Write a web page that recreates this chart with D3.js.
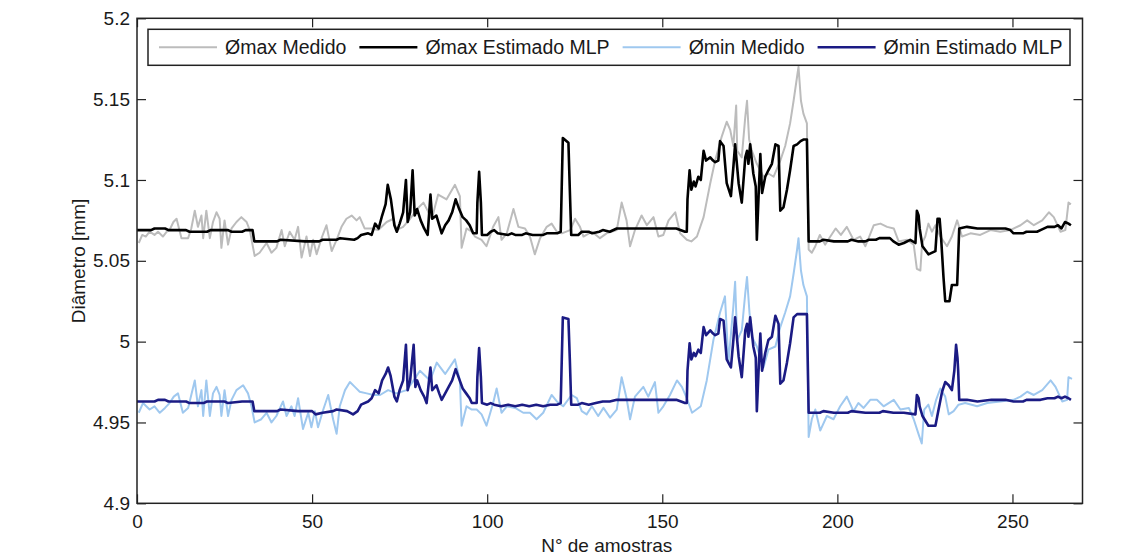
<!DOCTYPE html>
<html>
<head>
<meta charset="utf-8">
<script src="https://cdn.jsdelivr.net/npm/d3@7"></script>
<style>
	body { margin: 0; background: #fff; }
	text { font-family: "Liberation Sans", Arial, sans-serif; fill: #1a1a1a; }
</style>
</head>
<body>
<script>
'use strict';

// Values: [sample, diameter in mm]
const maxMedido = [
	[0.5,5.061],[1.5,5.066],[2.5,5.065],[3.6,5.068],[5,5.066],[6,5.068],[7.4,5.065],[8.5,5.068],[9.5,5.070],[10.4,5.074],
	[11.3,5.076],[12.7,5.064],[14.6,5.064],[15.5,5.070],[16.5,5.081],[17.4,5.071],[18.4,5.078],[18.9,5.064],[19.8,5.081],[20.8,5.064],
	[21.7,5.074],[22.7,5.080],[23.6,5.076],[24.1,5.058],[25,5.075],[26,5.060],[27,5.070],[28.4,5.074],[29.8,5.077],[31.3,5.074],
	[32.2,5.069],[33.6,5.053],[35,5.055],[37,5.061],[38.4,5.055],[39.8,5.058],[41.3,5.069],[42.2,5.059],[43.6,5.068],[45,5.063],
	[46,5.071],[47,5.052],[48.4,5.065],[49.4,5.053],[50.3,5.063],[51.3,5.054],[52.7,5.064],[54.1,5.072],[55.6,5.056],[57,5.063],
	[58.4,5.071],[59.8,5.076],[61.3,5.078],[62.7,5.075],[63.6,5.077],[65,5.070],[67,5.070],[68.9,5.069],[71.3,5.074],[73.2,5.076],
	[74.1,5.069],[76,5.071],[78,5.076],[80,5.082],[81.8,5.086],[84.2,5.076],[86,5.091],[88.4,5.088],[90.8,5.097],[92.2,5.090],
	[92.7,5.058],[94.1,5.070],[95.6,5.068],[96.5,5.065],[98.4,5.063],[99.8,5.059],[101.7,5.071],[103.2,5.077],[104.1,5.063],[105.6,5.067],
	[107.5,5.082],[108.9,5.071],[110.8,5.070],[112.2,5.065],[113.6,5.054],[115.1,5.064],[117,5.071],[118.4,5.073],[119.9,5.068],[121.3,5.067],
	[123.7,5.069],[125.1,5.076],[126.5,5.071],[127.5,5.065],[129.9,5.068],[132.2,5.064],[134.1,5.067],[137,5.069],[138.4,5.086],[139.8,5.075],
	[140.8,5.059],[142.2,5.069],[144.1,5.078],[145.6,5.072],[147.5,5.077],[148.9,5.065],[150.3,5.066],[151.8,5.075],[153.7,5.080],[155.1,5.067],
	[157,5.063],[158.3,5.062],[159.9,5.065],[161.8,5.077],[163.7,5.098],[165.1,5.112],[167,5.127],[168.4,5.136],[169.4,5.131],[170.3,5.121],
	[171.1,5.146],[171.4,5.118],[172.7,5.114],[173.7,5.139],[174.2,5.149],[174.8,5.125],[175.6,5.118],[177,5.110],[178.9,5.102],[180.3,5.104],
	[181.8,5.102],[183.7,5.112],[185.1,5.121],[186.5,5.135],[187.5,5.149],[188.5,5.164],[188.9,5.170],[189.6,5.149],[190.3,5.141],[191.3,5.135],
	[191.8,5.057],[192.7,5.055],[193.7,5.059],[195,5.066],[196.5,5.060],[198,5.065],[199.5,5.070],[201,5.066],[202.7,5.071],[204.6,5.063],
	[206.5,5.065],[208,5.059],[210.4,5.072],[212.3,5.073],[214.2,5.071],[216.1,5.070],[217.5,5.062],[219.9,5.063],[221.8,5.060],[222.7,5.045],
	[223.7,5.044],[224.2,5.061],[225.1,5.065],[226,5.073],[227,5.068],[228,5.072],[229.4,5.065],[231.3,5.059],[232.7,5.065],[234.2,5.075],
	[235.6,5.065],[238,5.067],[240.8,5.066],[243.7,5.069],[246.5,5.068],[249.4,5.069],[252.3,5.072],[254.2,5.075],[256.1,5.072],[258.5,5.075],
	[260.4,5.080],[261.8,5.077],[263.7,5.068],[265.1,5.069],[266,5.086],[266.7,5.085]
];

const maxEstimado = [
	[0,5.069],[4,5.069],[5,5.070],[8,5.070],[9,5.069],[14,5.069],[15,5.068],[20,5.068],[21,5.069],[26,5.069],
	[27,5.068],[30,5.068],[31,5.069],[33,5.069],[33.5,5.062],[40,5.062],[41,5.063],[48,5.062],[52,5.062],[53,5.063],
	[57,5.063],[58,5.064],[62,5.063],[63,5.064],[64,5.066],[66,5.067],[67,5.066],[68,5.073],[69,5.070],[70,5.078],
	[71,5.085],[71.6,5.097],[72.5,5.088],[73.5,5.072],[74.2,5.068],[75,5.073],[76,5.080],[76.8,5.100],[77.3,5.074],[78,5.080],
	[78.7,5.106],[79.3,5.078],[80,5.082],[81,5.075],[82,5.070],[83,5.066],[83.8,5.091],[84.3,5.076],[85.5,5.078],[86.3,5.072],
	[87,5.067],[88,5.072],[89,5.075],[90,5.080],[91,5.088],[92,5.082],[93,5.077],[94,5.075],[95,5.072],[96,5.067],
	[97,5.067],[97.2,5.086],[97.7,5.105],[98.2,5.086],[98.5,5.066],[100,5.066],[101,5.068],[102,5.069],[103,5.067],[106,5.066],
	[107,5.067],[108,5.066],[110,5.066],[111,5.067],[113,5.066],[116,5.066],[117,5.067],[120,5.067],[121,5.068],[121.3,5.097],
	[121.6,5.126],[123.2,5.123],[123.6,5.094],[124,5.066],[126,5.066],[127,5.068],[129,5.068],[130,5.067],[132,5.068],[133,5.069],
	[135,5.068],[137,5.070],[140,5.070],[145,5.070],[150,5.070],[154,5.070],[156.5,5.068],[157,5.068],[157.2,5.088],[157.8,5.106],
	[158.3,5.094],[159,5.099],[159.5,5.096],[160.3,5.102],[161,5.100],[161.8,5.118],[162.5,5.112],[163.7,5.114],[164.5,5.112],[165.1,5.111],
	[166,5.112],[166.5,5.124],[167.5,5.121],[168.4,5.098],[169.6,5.090],[170.3,5.108],[170.8,5.122],[171.8,5.098],[172.7,5.086],[173.7,5.114],
	[174.2,5.118],[174.6,5.110],[175.1,5.122],[176,5.104],[176.7,5.096],[177,5.063],[177.5,5.090],[178,5.116],[178.5,5.092],[179.4,5.102],
	[180.3,5.106],[181.3,5.110],[182.3,5.122],[183.2,5.121],[183.7,5.081],[184.6,5.083],[185.6,5.094],[186.5,5.106],[187.5,5.121],[188.5,5.122],
	[189.5,5.124],[190.3,5.125],[191.3,5.125],[191.8,5.062],[195,5.062],[196,5.063],[199,5.062],[203,5.062],[204,5.063],[206,5.062],
	[208,5.062],[209,5.063],[211,5.063],[212,5.064],[215,5.064],[216,5.062],[217.5,5.060],[219,5.061],[220.8,5.063],[222.3,5.061],
	[222.7,5.081],[223.2,5.078],[223.5,5.070],[224.3,5.059],[226,5.054],[228,5.056],[228.6,5.076],[229.2,5.076],[229.6,5.065],[230.3,5.040],
	[230.8,5.025],[232,5.025],[232.7,5.035],[234.2,5.035],[234.8,5.070],[237,5.071],[240,5.070],[244,5.070],[248,5.070],[249.4,5.069],
	[250.3,5.067],[253,5.067],[254,5.068],[257,5.068],[258,5.069],[260,5.071],[262,5.071],[263,5.072],[264,5.070],[265,5.074],
	[266,5.073],[266.7,5.072]
];

const minMedido = [
	[0.5,4.956],[1.7,4.962],[3.6,4.958],[5,4.960],[6.5,4.956],[8,4.959],[9.3,4.962],[10.5,4.966],[11.7,4.968],[13.1,4.956],
	[14.6,4.959],[16.5,4.976],[17.4,4.960],[18.4,4.970],[18.9,4.954],[19.8,4.976],[20.8,4.954],[21.7,4.968],[22.7,4.972],[23.6,4.967],
	[24.1,4.954],[25,4.970],[26,4.954],[27,4.964],[28.4,4.970],[30.3,4.973],[31.7,4.968],[32.7,4.960],[33.6,4.950],[35.5,4.952],
	[37,4.956],[38.4,4.950],[39.8,4.954],[41.7,4.963],[42.7,4.954],[44.1,4.960],[45,4.954],[46,4.965],[47.4,4.946],[48.9,4.956],
	[49.8,4.947],[50.8,4.957],[51.7,4.947],[53.2,4.958],[54.6,4.967],[56,4.952],[57,4.943],[57.9,4.960],[59.4,4.970],[60.8,4.975],
	[62.2,4.972],[63.6,4.969],[65.6,4.968],[67.5,4.967],[69.4,4.967],[71.7,4.970],[74.1,4.968],[77,4.970],[79,4.976],[80.8,4.982],
	[83.7,4.976],[85.6,4.987],[88,4.980],[90.8,4.989],[92.2,4.976],[92.7,4.948],[94.1,4.960],[95.6,4.958],[97,4.958],[98.4,4.955],
	[99.8,4.948],[101.7,4.962],[102.7,4.971],[104.1,4.956],[105.6,4.960],[108,4.959],[110.3,4.956],[112.2,4.956],[114.1,4.952],[116,4.956],
	[118.4,4.967],[119.9,4.963],[121.7,4.960],[124.1,4.967],[125.6,4.965],[127,4.957],[128.4,4.955],[129.9,4.960],[131.7,4.954],[133.2,4.959],
	[135.1,4.953],[137,4.958],[138.4,4.978],[139.8,4.965],[140.8,4.952],[142.2,4.966],[144.6,4.972],[146,4.966],[147.9,4.975],[148.9,4.956],
	[150.3,4.960],[152.2,4.967],[154.2,4.976],[155.6,4.972],[157,4.965],[158.5,4.956],[161,4.960],[162.7,4.976],[164.6,5.001],[166.5,5.018],
	[167.9,5.028],[168.9,4.987],[170.3,5.022],[170.8,5.037],[171.4,5.001],[172.7,5.007],[173.7,5.030],[174.2,5.040],[174.9,5.018],[175.6,5.003],
	[177,4.997],[178.9,4.984],[180.3,4.995],[182.3,4.997],[183.7,5.009],[185.1,5.018],[186.5,5.028],[187.5,5.042],[188.5,5.057],[188.9,5.064],
	[189.6,5.044],[190.3,5.035],[191.3,5.028],[191.8,4.941],[192.7,4.952],[193.7,4.958],[195.1,4.945],[197,4.954],[198.9,4.952],[200.8,4.960],
	[202.7,4.966],[204.6,4.957],[206,4.962],[207.5,4.959],[209.4,4.964],[211.3,4.964],[213.2,4.960],[216.1,4.964],[218,4.958],[220.4,4.959],
	[221.8,4.952],[223.3,4.942],[224.1,4.937],[224.8,4.958],[226,4.961],[227,4.954],[228.2,4.964],[229.4,4.971],[230.8,4.966],[231.8,4.955],
	[233.2,4.957],[234.6,4.961],[236.5,4.962],[239.9,4.960],[242.8,4.962],[246.5,4.963],[250.3,4.964],[252.3,4.966],[254.2,4.969],[256.1,4.967],
	[258.5,4.970],[260.9,4.976],[262.3,4.972],[264.2,4.963],[265.6,4.964],[266,4.978],[267,4.977]
];

const minEstimado = [
	[0,4.963],[5,4.963],[6,4.964],[8,4.964],[9,4.963],[14,4.963],[15,4.962],[19,4.962],[20,4.963],[25,4.963],
	[26,4.962],[30,4.963],[33,4.963],[33.5,4.957],[40,4.957],[41,4.958],[46,4.957],[50,4.957],[51,4.955],[53,4.956],
	[56,4.957],[57,4.958],[60,4.957],[61.7,4.955],[63,4.957],[64,4.961],[66,4.963],[67,4.965],[68,4.970],[69,4.968],
	[70,4.976],[71,4.980],[71.7,4.984],[72.4,4.979],[73.5,4.966],[74.2,4.963],[75,4.970],[76,4.976],[76.8,4.998],[77.3,4.970],
	[78,4.976],[79,4.998],[79.5,4.972],[80,4.976],[81,4.970],[82,4.966],[82.7,4.962],[83.8,4.984],[84.3,4.970],[85.5,4.973],
	[86.3,4.968],[87,4.964],[88,4.968],[89,4.972],[90,4.976],[91,4.983],[92,4.977],[93,4.971],[94,4.968],[95,4.965],
	[95.6,4.962],[97,4.962],[97.2,4.978],[97.7,4.996],[98.2,4.978],[98.5,4.962],[100,4.961],[101,4.962],[102,4.961],[104,4.960],
	[106,4.961],[108,4.960],[110,4.961],[112,4.960],[114,4.961],[116,4.960],[118,4.961],[120,4.961],[121,4.962],[121.3,4.989],
	[121.6,5.015],[123.2,5.014],[123.6,4.989],[124,4.961],[126,4.961],[127,4.962],[129,4.961],[131,4.962],[133,4.963],[135,4.963],
	[137,4.964],[140,4.964],[145,4.964],[150,4.964],[154,4.964],[156.5,4.962],[157,4.962],[157.2,4.982],[157.8,4.999],[158.3,4.989],
	[159,4.993],[159.5,4.991],[160.3,4.995],[161,4.993],[161.8,5.009],[162.5,5.004],[163.7,5.007],[164.5,5.005],[165.1,5.004],[166,5.005],
	[166.5,5.014],[167.5,5.013],[168.4,4.989],[169.6,4.984],[170.3,5.001],[170.8,5.015],[171.8,4.991],[172.7,4.978],[173.7,5.007],[174.2,5.011],
	[174.6,5.003],[175.1,5.015],[176,4.997],[176.7,4.990],[177,4.957],[177.5,4.982],[178,5.005],[178.5,4.982],[179.4,4.993],[180.3,5.001],
	[181.3,5.003],[182.3,5.016],[183.2,5.011],[183.7,4.974],[184.6,4.976],[185.6,4.987],[186.5,4.999],[187.5,5.015],[188.5,5.017],[190.3,5.017],
	[191.3,5.017],[191.8,4.956],[195,4.956],[196,4.957],[199,4.956],[203,4.956],[204,4.957],[208,4.956],[212,4.956],[213,4.957],
	[216,4.956],[219,4.956],[222.3,4.955],[222.7,4.967],[223.2,4.965],[223.5,4.960],[224.3,4.954],[226,4.948],[228,4.948],[228.9,4.958],
	[229.9,4.969],[230.8,4.975],[231.8,4.973],[232.7,4.970],[233.4,4.982],[233.9,4.998],[234.3,4.990],[234.5,4.982],[234.8,4.964],[237,4.964],
	[240,4.963],[244,4.964],[248,4.964],[250.3,4.963],[253,4.963],[254,4.964],[258,4.964],[260,4.965],[262,4.965],[263,4.966],
	[264,4.965],[265,4.966],[266,4.965],[266.7,4.964]
];

const seriesNames = ["Ømax Medido", "Ømax Estimado MLP", "Ømin Medido", "Ømin Estimado MLP"];
const seriesData = [maxMedido, maxEstimado, minMedido, minEstimado];
const xTicks = [0, 50, 100, 150, 200, 250];
const yTicks = [4.9, 4.95, 5.0, 5.05, 5.1, 5.15, 5.2];

// Styles
const colors = ["#bcbcbc", "#000000", "#9fc8ef", "#1b1b84"];
const widths = [2, 2.6, 2, 2.6];
const fontSize = 19;

const width = 1135, height = 556;
const margin = { left: 137, right: 52.5, top: 18.3, bottom: 52.7 };
const plotW = width - margin.left - margin.right;
const plotH = height - margin.top - margin.bottom;

const svg = d3.select("body").append("svg")
	.attr("width", width)
	.attr("height", height);

svg.append("rect").attr("width", width).attr("height", height).attr("fill", "#fff");

const g = svg.append("g").attr("transform", `translate(${margin.left},${margin.top})`);

const x = d3.scaleLinear().domain([0, 270]).range([0, plotW]);
const y = d3.scaleLinear().domain([4.9, 5.2]).range([plotH, 0]);

const fmt = v => String(+v.toFixed(2));

// Series, measured first so the estimates sit on top
const line = d3.line().x(d => x(d[0])).y(d => y(d[1]));
g.append("defs").append("clipPath").attr("id", "clip")
	.append("rect").attr("width", plotW).attr("height", plotH);

const plot = g.append("g").attr("clip-path", "url(#clip)");
seriesData.forEach((data, i) => {
	plot.append("path")
		.datum(data)
		.attr("d", line)
		.attr("fill", "none")
		.attr("stroke", colors[i])
		.attr("stroke-width", widths[i])
		.attr("stroke-linejoin", "round");
});

// Axes: MATLAB-like box with inward ticks on all sides
function styleAxis(sel)
{
	sel.select(".domain").remove();
	sel.selectAll(".tick line").attr("stroke", "#222").attr("stroke-width", 1.2);
	sel.selectAll("text").attr("font-size", fontSize).attr("fill", "#1a1a1a")
		.attr("font-family", "Liberation Sans, Arial, sans-serif");
}

g.append("g").attr("transform", `translate(0,${plotH})`)
	.call(d3.axisBottom(x).tickValues(xTicks).tickFormat(fmt).tickSizeInner(-9).tickSizeOuter(0).tickPadding(11))
	.call(styleAxis);
g.append("g")
	.call(d3.axisLeft(y).tickValues(yTicks).tickFormat(fmt).tickSizeInner(-9).tickSizeOuter(0).tickPadding(7))
	.call(styleAxis);
g.append("g")
	.call(d3.axisTop(x).tickValues(xTicks).tickFormat("").tickSizeInner(-9).tickSizeOuter(0))
	.call(styleAxis);
g.append("g").attr("transform", `translate(${plotW},0)`)
	.call(d3.axisRight(y).tickValues(yTicks).tickFormat("").tickSizeInner(-9).tickSizeOuter(0))
	.call(styleAxis);

g.append("rect")
	.attr("width", plotW).attr("height", plotH)
	.attr("fill", "none").attr("stroke", "#222").attr("stroke-width", 1.5);

// Axis titles
svg.append("text")
	.attr("x", margin.left + plotW / 2 - 3)
	.attr("y", 552)
	.attr("text-anchor", "middle")
	.attr("font-size", fontSize)
	.text("N° de amostras");

svg.append("text")
	.attr("transform", "translate(85,261) rotate(-90)")
	.attr("text-anchor", "middle")
	.attr("font-size", fontSize)
	.text("Diâmetro [mm]");

// Legend, one row across the top
const legend = g.append("g");
legend.append("rect")
	.attr("x", 11).attr("y", 11)
	.attr("width", 922).attr("height", 36)
	.attr("fill", "#fff").attr("stroke", "#222").attr("stroke-width", 1.5);

let cursor = 22;
seriesNames.forEach((name, i) => {
	legend.append("line")
		.attr("x1", cursor).attr("x2", cursor + 58)
		.attr("y1", 29).attr("y2", 29)
		.attr("stroke", colors[i]).attr("stroke-width", widths[i]);
	let t = legend.append("text")
		.attr("x", cursor + 66).attr("y", 29)
		.attr("dy", "0.35em")
		.attr("font-size", 19.5)
		.text(name);
	cursor += 66 + t.node().getComputedTextLength() + 13;
});
</script>
</body>
</html>
